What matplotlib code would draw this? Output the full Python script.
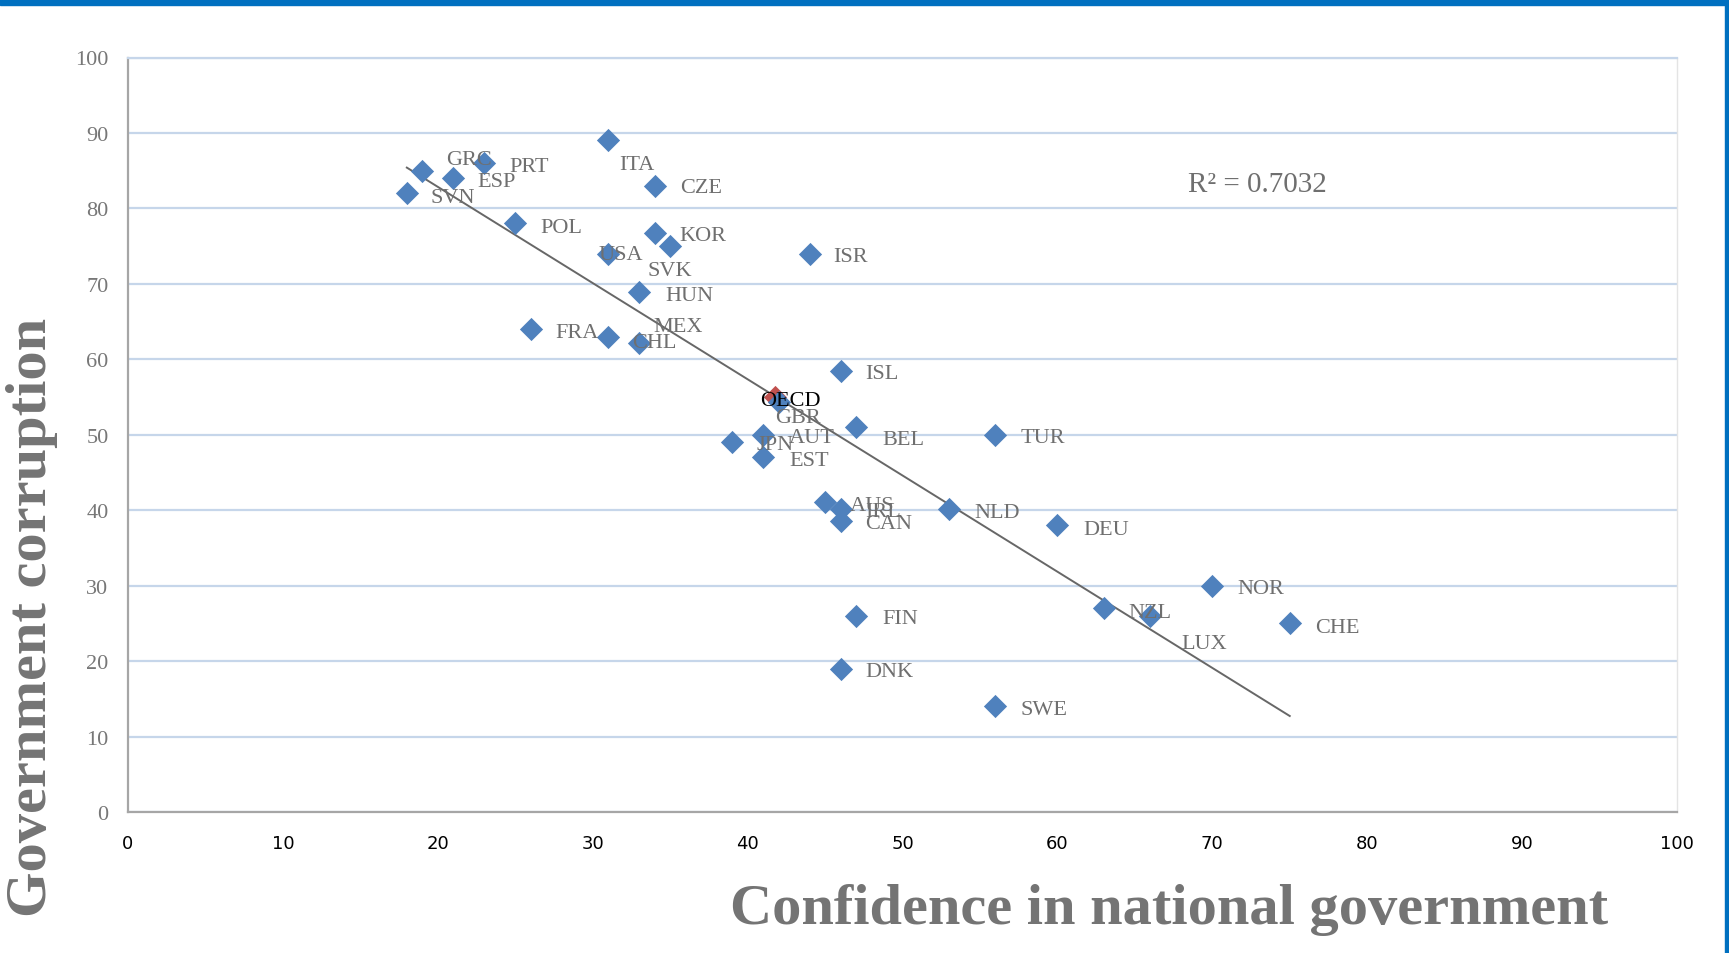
import numpy as np
import matplotlib
matplotlib.use("Agg")
import matplotlib.pyplot as plt
from matplotlib.patches import Rectangle

# ---- data ----
countries = ["GRC", "SVN", "ESP", "PRT", "ITA", "CZE", "POL", "KOR", "SVK", "USA",
             "ISR", "HUN", "FRA", "MEX", "CHL", "ISL", "GBR", "BEL", "TUR", "AUT",
             "JPN", "EST", "AUS", "IRL", "CAN", "NLD", "DEU", "NOR", "NZL", "LUX",
             "CHE", "FIN", "DNK", "SWE"]
confidence = [19, 18, 21, 23, 31, 34, 25, 34, 35, 31,
              44, 33, 26, 31, 33, 46, 42, 47, 56, 41,
              39, 41, 45, 46, 46, 53, 60, 70, 63, 66,
              75, 47, 46, 56]
corruption = [85, 82, 84, 86, 89, 83, 78, 76.8, 75, 74,
              74, 68.9, 64, 62.9, 62.1, 58.5, 54.4, 51, 50, 50,
              49.1, 47.1, 41.1, 40.1, 38.6, 40.1, 38, 30, 27, 26,
              25, 26, 19, 14]
oecd_label = "OECD"
oecd_confidence = 41.8
oecd_corruption = 55.0
r2_text = "R² = 0.7032"
x_ticks = list(range(0, 101, 10))
y_ticks = list(range(0, 101, 10))

# label offsets (pixels, left edge of text relative to marker)
label_offsets = {
    "GRC": (24, 13), "PRT": (25, -1), "ESP": (24, -1), "SVN": (24, -2),
    "ITA": (11, -22), "CZE": (25, 0), "POL": (25, -2), "KOR": (25, -1),
    "USA": (-10, 1), "SVK": (-23, -22), "ISR": (24, -1), "HUN": (26, -1),
    "FRA": (25, -1), "MEX": (45, 13), "CHL": (-7, 3), "ISL": (25, -1),
    "GBR": (-3, -14), "AUT": (26, -1), "JPN": (24, -1), "BEL": (26, -10),
    "TUR": (25, -1), "EST": (26, -2), "AUS": (25, -2), "IRL": (25, 0),
    "CAN": (25, -1), "NLD": (25, -1), "DEU": (26, -2), "NOR": (25, -1),
    "NZL": (25, -2), "LUX": (31, -26), "CHE": (25, -2), "FIN": (26, -1),
    "DNK": (25, -1), "SWE": (25, -1),
}
label_shift = -2  # global vertical nudge (pixels)

W, H, DPI = 1729, 954, 100
fig = plt.figure(figsize=(W / DPI, H / DPI), dpi=DPI)
ax = fig.add_axes([128 / W, 1 - 813 / H, (1677 - 128) / W, (813 - 58.5) / H])

grid_c = "#c6d6ea"
ax.set_xlim(0, 100)
ax.set_ylim(0, 100)
ax.set_xticks(x_ticks)
ax.set_yticks(y_ticks)
ax.yaxis.grid(True, color=grid_c, linewidth=1.6)
ax.xaxis.grid(False)
ax.set_axisbelow(True)
for s in ["left", "bottom"]:
    ax.spines[s].set_color("#a6a6a6")
    ax.spines[s].set_linewidth(1.6)
ax.spines["top"].set_color(grid_c)
ax.spines["top"].set_linewidth(1.6)
ax.spines["right"].set_color("#e4e4e4")
ax.spines["right"].set_linewidth(1.0)
ax.tick_params(length=0)
ax.tick_params(axis="y", pad=14, labelcolor="#777777", labelsize=16)
ax.tick_params(axis="x", pad=16, labelcolor="#000000", labelsize=13)
for t in ax.get_yticklabels():
    t.set_family(["Liberation Serif", "DejaVu Serif"])

# trendline
cx = np.array(confidence, dtype=float)
cy = np.array(corruption, dtype=float)
slope, intercept = np.polyfit(cx, cy, 1)
xs = np.array([cx.min(), cx.max()])
ax.plot(xs, slope * xs + intercept, color="#676767", linewidth=1.4, zorder=2)

# markers
ax.scatter([oecd_confidence], [oecd_corruption], marker="D", s=140,
           color="#c0504d", zorder=3, linewidths=0)
ax.scatter(cx, cy, marker="D", s=140, color="#4f81bd", zorder=4, linewidths=0)

# labels
lab_font = ["Liberation Serif", "DejaVu Serif"]
for name, xv, yv in zip(countries, confidence, corruption):
    dx, dy = label_offsets[name]
    ax.annotate(name, (xv, yv), xytext=(dx, dy + label_shift),
                textcoords="offset pixels",
                ha="left", va="center", fontsize=16, color="#6f6f6f",
                family=lab_font, zorder=5)
ax.annotate(oecd_label, (oecd_confidence, oecd_corruption),
            xytext=(-15, -1 + label_shift),
            textcoords="offset pixels", ha="left", va="center", fontsize=16,
            color="#000000", family=lab_font, zorder=5)

ax.text(0.684, 0.832, r2_text, transform=ax.transAxes, fontsize=21,
        color="#6f6f6f", family=lab_font, ha="left", va="center")

# axis titles
fig.text(1169 / W, 1 - 910 / H, "Confidence in national government",
         ha="center", va="center", fontsize=42, fontweight="bold",
         color="#747474", family=lab_font)
fig.text(32 / W, 1 - 617 / H, "Government corruption", rotation=90,
         ha="center", va="center", fontsize=42, fontweight="bold",
         color="#747474", family=lab_font)

# frame borders
fig.patches.append(Rectangle((0, 1 - 6 / H), 1, 6 / H, transform=fig.transFigure,
                             color="#0070c0", zorder=10))
fig.patches.append(Rectangle((1 - 4 / W, 0), 4 / W, 1, transform=fig.transFigure,
                             color="#0070c0", zorder=10))

fig.savefig("out.png", dpi=DPI)
